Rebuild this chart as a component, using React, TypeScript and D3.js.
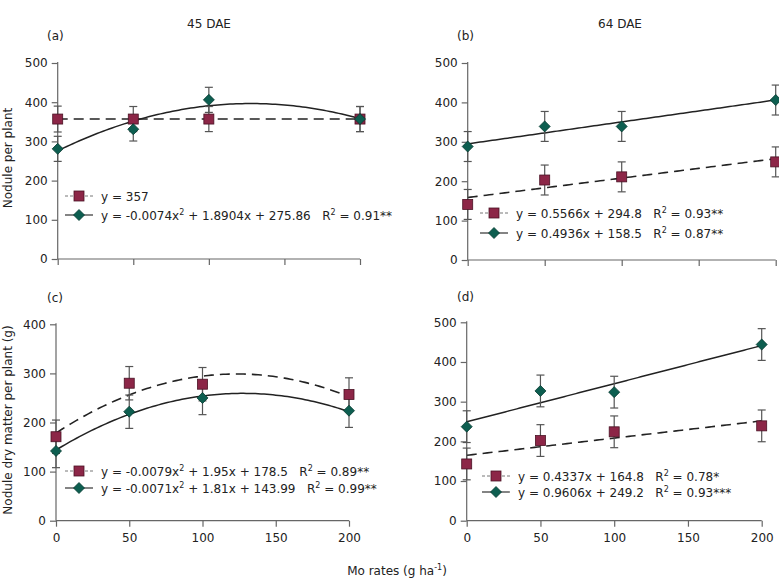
import React, { useEffect, useRef } from "react";
import * as d3 from "d3";

// x positions (Mo rates)
const rates = [0, 50, 100, 200];
const xTicks = [0, 50, 100, 150, 200];

// (a) nodules per plant, 45 DAE
const aSquare = [357, 357, 357, 357];
const aSquareErr = [33, 32, 32, 32];
const aDiamond = [281, 331, 406, 357];
const aDiamondErr = [32, 30, 32, 32];

// (b) nodules per plant, 64 DAE
const bSquare = [141, 203, 211, 249];
const bSquareErr = [38, 38, 38, 38];
const bDiamond = [288, 339, 339, 406];
const bDiamondErr = [38, 38, 38, 38];

// (c) nodule dry matter, 45 DAE
const cSquare = [171, 280, 278, 257];
const cSquareErr = [34, 34, 34, 34];
const cDiamond = [142, 222, 250, 224];
const cDiamondErr = [34, 34, 34, 34];

// (d) nodule dry matter, 64 DAE
const dSquare = [143, 202, 224, 239];
const dSquareErr = [40, 40, 40, 40];
const dDiamond = [237, 327, 324, 444];
const dDiamondErr = [40, 40, 40, 40];

// fitted trend coefficients [a, b, c] for a*x^2 + b*x + c
const aSquareFit = [0, 0, 357];
const aDiamondFit = [-0.0074, 1.8904, 275.86];
const bSquareFit = [0, 0.4936, 158.5];
const bDiamondFit = [0, 0.5566, 294.8];
const cSquareFit = [-0.0079, 1.95, 178.5];
const cDiamondFit = [-0.0071, 1.81, 143.99];
const dSquareFit = [0, 0.4337, 164.8];
const dDiamondFit = [0, 0.9606, 249.2];

const squareColor = "#8c2647";
const diamondColor = "#0d5e50";
const font = "'DejaVu Sans', sans-serif";

export default function App() {
  const ref = useRef<SVGSVGElement>(null);

  useEffect(() => {
    const svg = d3.select(ref.current);
    svg.selectAll("*").remove();

    const panels = [
      { tag: "(a)", left: 57.7, right: 360, bottom: 259, top: 63, yMax: 500, xLabels: false,
        sq: aSquare, sqE: aSquareErr, di: aDiamond, diE: aDiamondErr, sqFit: aSquareFit, diFit: aDiamondFit,
        leg: [["y = 357", null], ["y = -0.0074x", "2", " + 1.8904x + 275.86   R", "2", " = 0.91**"]],
        legY: [196, 215], legX: 65, tagPos: [47, 40] },
      { tag: "(b)", left: 467.7, right: 775.7, bottom: 260, top: 63, yMax: 500, xLabels: false,
        sq: bSquare, sqE: bSquareErr, di: bDiamond, diE: bDiamondErr, sqFit: bSquareFit, diFit: bDiamondFit,
        leg: [["y = 0.5566x + 294.8   R", "2", " = 0.93**"], ["y = 0.4936x + 158.5   R", "2", " = 0.87**"]],
        legY: [213, 233], legX: 480, tagPos: [457, 40] },
      { tag: "(c)", left: 56, right: 349, bottom: 520.7, top: 324.3, yMax: 400, xLabels: true,
        sq: cSquare, sqE: cSquareErr, di: cDiamond, diE: cDiamondErr, sqFit: cSquareFit, diFit: cDiamondFit,
        leg: [["y = -0.0079x", "2", " + 1.95x + 178.5   R", "2", " = 0.89**"], ["y = -0.0071x", "2", " + 1.81x + 143.99   R", "2", " = 0.99**"]],
        legY: [471, 488], legX: 65, tagPos: [47, 302] },
      { tag: "(d)", left: 466.7, right: 761.7, bottom: 520.7, top: 322.3, yMax: 500, xLabels: true,
        sq: dSquare, sqE: dSquareErr, di: dDiamond, diE: dDiamondErr, sqFit: dSquareFit, diFit: dDiamondFit,
        leg: [["y = 0.4337x + 164.8   R", "2", " = 0.78*"], ["y = 0.9606x + 249.2   R", "2", " = 0.93***"]],
        legY: [476, 492], legX: 482, tagPos: [457, 301] },
    ];

    panels.forEach(p => {
      const x = d3.scaleLinear().domain([0, 200]).range([p.left, p.right]);
      const y = d3.scaleLinear().domain([0, p.yMax]).range([p.bottom, p.top]);
      const g = svg.append("g");

      // axes
      const yAxis = g.append("g").attr("transform", `translate(${p.left},0)`)
        .call(d3.axisLeft(y).ticks(p.yMax / 100).tickSize(6).tickPadding(4));
      const xAxis = g.append("g").attr("transform", `translate(0,${p.bottom})`)
        .call(d3.axisBottom(x).tickValues(xTicks).tickSize(6).tickPadding(7)
          .tickFormat(p.xLabels ? (d => String(d)) as any : () => ""));
      [yAxis, xAxis].forEach(ax => {
        ax.select(".domain").attr("stroke", "#666").attr("stroke-width", 1.2);
        ax.selectAll(".tick line").attr("stroke", "#666").attr("stroke-width", 1.2);
        ax.selectAll(".tick text").attr("fill", "#222").style("font-family", font).style("font-size", "12px");
      });
      yAxis.select(".domain").attr("d", `M0,${p.bottom}V${p.top - 1}`);
      xAxis.select(".domain").attr("d", `M${p.left},0H${p.right}`);

      // trend lines
      const xs = d3.range(0, 200.01, 2);
      const line = (c: number[]) => d3.line<number>()
        .x(v => x(v)).y(v => y(c[0] * v * v + c[1] * v + c[2]))(xs);
      g.append("path").attr("d", line(p.sqFit)).attr("fill", "none")
        .attr("stroke", "#222").attr("stroke-width", 1.6).attr("stroke-dasharray", "10,6");
      g.append("path").attr("d", line(p.diFit)).attr("fill", "none")
        .attr("stroke", "#222").attr("stroke-width", 1.5);

      // error bars
      const errs = (vals: number[], e: number[]) => {
        rates.forEach((r, i) => {
          const cx = x(r);
          const y1 = y(vals[i] + e[i]);
          const y2 = y(vals[i] - e[i]);
          g.append("line").attr("x1", cx).attr("x2", cx).attr("y1", y1).attr("y2", y2)
            .attr("stroke", "#555").attr("stroke-width", 1.2);
          [y1, y2].forEach(yy => g.append("line").attr("x1", cx - 4).attr("x2", cx + 4)
            .attr("y1", yy).attr("y2", yy).attr("stroke", "#555").attr("stroke-width", 1.2));
        });
      };
      errs(p.sq, p.sqE);
      errs(p.di, p.diE);

      const square = (sel: any, cx: number, cy: number) => sel.append("rect")
        .attr("x", cx - 5).attr("y", cy - 5).attr("width", 10).attr("height", 10)
        .attr("fill", squareColor).attr("stroke", "#4a1224").attr("stroke-width", 0.8);
      const diamond = (sel: any, cx: number, cy: number) => sel.append("path")
        .attr("d", `M${cx},${cy - 5.5}L${cx + 5.5},${cy}L${cx},${cy + 5.5}L${cx - 5.5},${cy}Z`)
        .attr("fill", diamondColor).attr("stroke", "#063a30").attr("stroke-width", 0.8);

      rates.forEach((r, i) => square(g, x(r), y(p.sq[i])));
      rates.forEach((r, i) => diamond(g, x(r), y(p.di[i])));

      // legend
      p.leg.forEach((parts, k) => {
        const ly = p.legY[k];
        const lx = p.legX;
        if (k === 0) {
          g.append("line").attr("x1", lx).attr("x2", lx + 28).attr("y1", ly).attr("y2", ly)
            .attr("stroke", "#777").attr("stroke-width", 1).attr("stroke-dasharray", "3,2");
          square(g, lx + 14, ly);
        } else {
          g.append("line").attr("x1", lx).attr("x2", lx + 28).attr("y1", ly).attr("y2", ly)
            .attr("stroke", "#333").attr("stroke-width", 1.2);
          diamond(g, lx + 14, ly);
        }
        const t = g.append("text").attr("x", lx + 36).attr("y", ly + 4.5)
          .attr("fill", "#222").style("font-family", font).style("font-size", "12px")
          .attr("xml:space", "preserve").style("white-space", "pre");
        parts.filter(s => s !== null).forEach((s, j) => {
          if (j % 2 === 1) {
            t.append("tspan").attr("dy", -5).style("font-size", "8px").text(s as string);
          } else {
            t.append("tspan").attr("dy", j === 0 ? 0 : 5).text(s as string);
          }
        });
      });

      g.append("text").attr("x", p.tagPos[0]).attr("y", p.tagPos[1])
        .attr("fill", "#222").style("font-family", font).style("font-size", "12px").text(p.tag);
    });

    // titles
    svg.append("text").attr("x", 209).attr("y", 28).attr("text-anchor", "middle")
      .attr("fill", "#222").style("font-family", font).style("font-size", "12px").text("45 DAE");
    svg.append("text").attr("x", 620).attr("y", 28).attr("text-anchor", "middle")
      .attr("fill", "#222").style("font-family", font).style("font-size", "12px").text("64 DAE");

    // axis titles
    svg.append("text").attr("transform", "translate(12,158) rotate(-90)").attr("text-anchor", "middle")
      .attr("fill", "#222").style("font-family", font).style("font-size", "12px").text("Nodule per plant");
    svg.append("text").attr("transform", "translate(12,420) rotate(-90)").attr("text-anchor", "middle")
      .attr("fill", "#222").style("font-family", font).style("font-size", "12px").text("Nodule dry matter per plant (g)");

    const xl = svg.append("text").attr("x", 397).attr("y", 575).attr("text-anchor", "middle")
      .attr("fill", "#222").style("font-family", font).style("font-size", "12px");
    xl.append("tspan").text("Mo rates (g ha");
    xl.append("tspan").attr("dy", -5).style("font-size", "8px").text("-1");
    xl.append("tspan").attr("dy", 5).text(")");
  }, []);

  return (
    <svg ref={ref} width={779} height={578}
      style={{ position: "absolute", left: 0, top: 0, background: "#fff" }} />
  );
}
